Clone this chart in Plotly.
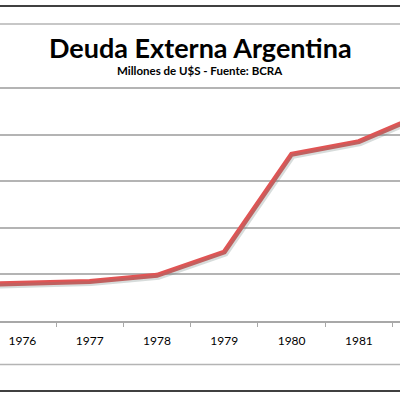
import plotly.graph_objects as go

years = [1975, 1976, 1977, 1978, 1979, 1980, 1981, 1982]
deuda = [7700, 8100, 8500, 9800, 14800, 35800, 38500, 44700]
year_labels = ["1976", "1977", "1978", "1979", "1980", "1981"]
grid_vals = [0, 10000, 20000, 30000, 40000, 50000]

title_text = "Deuda Externa Argentina"
subtitle_text = "Millones de U$S - Fuente: BCRA"

PLOT_H = 321.0
PX_PER_UNIT = 46.6 / 10000
Y_TOP = PLOT_H / PX_PER_UNIT
X_RANGE = [1975.667, 1981.611]
px_x = (X_RANGE[1] - X_RANGE[0]) / 400.0
px_y = Y_TOP / PLOT_H

fig = go.Figure()

# shadow
fig.add_trace(go.Scatter(
    x=years, y=deuda, mode="lines", xaxis="x2", yaxis="y2",
    line=dict(color="rgba(110,130,125,0.28)", width=5),
    hoverinfo="skip", showlegend=False,
))
# main line
fig.add_trace(go.Scatter(
    x=years, y=deuda, mode="lines",
    line=dict(color="#e05454", width=5),
    showlegend=False,
))

fig.update_layout(
    width=400, height=400,
    margin=dict(l=0, r=0, t=0, b=79),
    paper_bgcolor="white", plot_bgcolor="white",
    font=dict(family="Lato", color="black"),
    xaxis=dict(
        range=X_RANGE, tickvals=[int(v) for v in year_labels], ticktext=year_labels,
        ticks="", showgrid=False, zeroline=False,
        showline=True, linecolor="#a8a8a8", linewidth=1.5,
        tickfont=dict(family="Lato", size=12, color="black"),
        ticklabelstandoff=8,
        minor=dict(tick0=1975.5, dtick=1, ticks="outside", ticklen=4,
                   tickcolor="#a8a8a8", tickwidth=1, showgrid=False),
    ),
    yaxis=dict(
        range=[0, Y_TOP], tickvals=grid_vals, showticklabels=False,
        showgrid=True, gridcolor="#b4b4b4", gridwidth=1.5, zeroline=False,
    ),
    xaxis2=dict(range=[X_RANGE[0] - 1.5 * px_x, X_RANGE[1] - 1.5 * px_x],
                overlaying="x", visible=False),
    yaxis2=dict(range=[2 * px_y, Y_TOP + 2 * px_y], overlaying="y", visible=False),
    shapes=[
        dict(type="line", xref="paper", yref="paper", x0=0, x1=1,
             y0=1 - 6 / PLOT_H, y1=1 - 6 / PLOT_H, line=dict(color="black", width=1.5)),
        dict(type="line", xref="paper", yref="paper", x0=0, x1=1,
             y0=1 - 24 / PLOT_H, y1=1 - 24 / PLOT_H, line=dict(color="#b4b4b4", width=1.5)),
        dict(type="line", xref="paper", yref="paper", x0=0, x1=1,
             y0=(PLOT_H - 364.5) / PLOT_H, y1=(PLOT_H - 364.5) / PLOT_H,
             line=dict(color="#b4b4b4", width=1.5)),
        dict(type="line", xref="paper", yref="paper", x0=0, x1=1,
             y0=(PLOT_H - 391) / PLOT_H, y1=(PLOT_H - 391) / PLOT_H,
             line=dict(color="black", width=1.5)),
    ],
    annotations=[
        dict(text="<b>" + title_text + "</b>", xref="paper", yref="paper",
             x=0.5, y=1 - 47.5 / PLOT_H, xanchor="center", yanchor="middle",
             showarrow=False, font=dict(family="Lato", size=27, color="black")),
        dict(text="<b>" + subtitle_text + "</b>", xref="paper", yref="paper",
             x=0.5, y=1 - 70.5 / PLOT_H, xanchor="center", yanchor="middle",
             showarrow=False, font=dict(family="Lato", size=11.5, color="black")),
    ],
)

fig.write_html(
    "out.html",
    config={"displayModeBar": False},
    post_script="document.body.style.margin='0';document.body.style.overflow='hidden';",
)
